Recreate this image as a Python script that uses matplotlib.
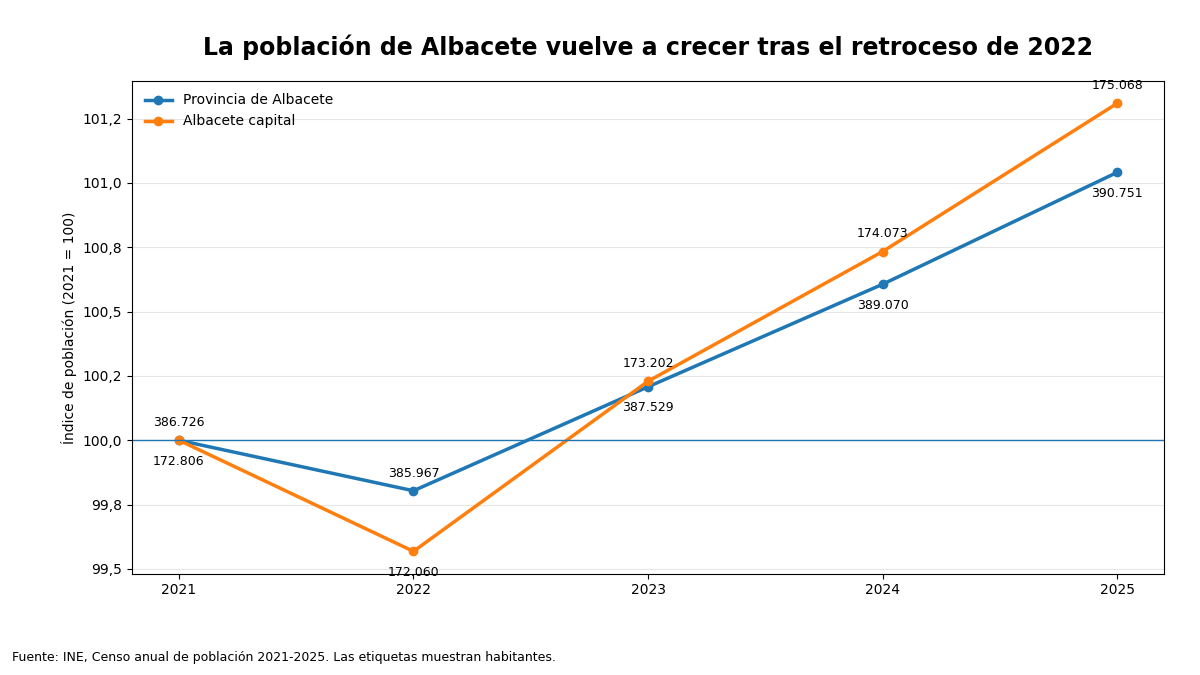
import matplotlib.pyplot as plt
from matplotlib.ticker import FuncFormatter, MultipleLocator

years = [2021, 2022, 2023, 2024, 2025]
provincia = [386726, 385967, 387529, 389070, 390751]
capital = [172806, 172060, 173202, 174073, 175068]

BLUE = "#1f77b4"
ORANGE = "#ff7f0e"


def to_index(values):
    return [v / values[0] * 100 for v in values]


def fmt_miles(v):
    return f"{v:,}".replace(",", ".")


prov_idx = to_index(provincia)
cap_idx = to_index(capital)

fig = plt.figure(figsize=(12, 6.75), dpi=100)
ax = fig.add_axes([0.11, 0.15, 0.86, 0.73])

ax.plot(years, prov_idx, color=BLUE, lw=2.5, marker="o", ms=6, label="Provincia de Albacete")
ax.plot(years, cap_idx, color=ORANGE, lw=2.5, marker="o", ms=6, label="Albacete capital")
ax.axhline(100, color=BLUE, lw=1)

for x, p, c, pv, cv in zip(years, prov_idx, cap_idx, provincia, capital):
    prov_up = p >= c
    for y, v, up in ((p, pv, prov_up), (c, cv, not prov_up)):
        ax.annotate(fmt_miles(v), (x, y), xytext=(0, 8 if up else -10.5),
                    textcoords="offset points", ha="center",
                    va="bottom" if up else "top", fontsize=9)

ax.set_xticks(years)
ax.yaxis.set_major_locator(MultipleLocator(0.25))
ax.yaxis.set_major_formatter(FuncFormatter(lambda v, _: f"{v:.1f}".replace(".", ",")))
ax.grid(axis="y", color="#e6e6e6", lw=0.8)
ax.set_axisbelow(True)
ax.tick_params(labelsize=10)
ax.set_ylabel("Índice de población (2021 = 100)", fontsize=10)
ax.set_title("La población de Albacete vuelve a crecer tras el retroceso de 2022",
             fontsize=17, fontweight="bold", pad=18.5)
ax.legend(loc="upper left", frameon=False, fontsize=10)

fig.text(0.01, 0.021, "Fuente: INE, Censo anual de población 2021-2025. Las etiquetas muestran habitantes.",
         fontsize=9)

fig.savefig("out.png", dpi=100)
